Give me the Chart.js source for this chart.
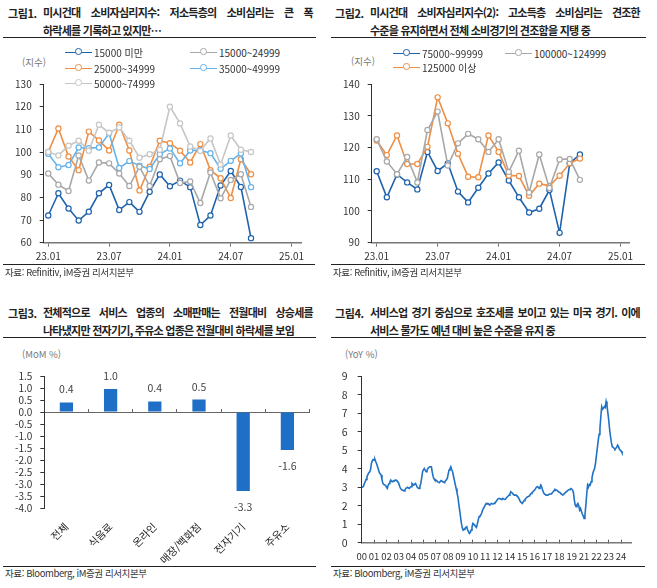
<!DOCTYPE html>
<html lang="ko">
<head>
<meta charset="utf-8">
<script src="https://cdn.jsdelivr.net/npm/chart.js@4"></script>
<style>
body{margin:0;background:#fff;width:657px;height:588px;position:relative;overflow:hidden;
  font-family:'Noto Sans CJK KR','Noto Sans',sans-serif;color:#222}
.num{position:absolute;font-size:11px;font-weight:700;line-height:18px;letter-spacing:-0.4px;white-space:nowrap}
.tt{position:absolute;width:270px;font-size:11px;font-weight:700;line-height:17.5px;letter-spacing:-0.75px;white-space:nowrap}
.tt .l1{display:flex;justify-content:space-between}
.rule{position:absolute;height:0;border-top:1px solid #222}
.src{position:absolute;font-size:9.5px;line-height:12px;color:#333;letter-spacing:-0.4px;white-space:nowrap}
.unit{position:absolute;font-size:9.5px;line-height:12px;color:#777;white-space:nowrap}
canvas{position:absolute}
.lg{position:absolute;font-size:10px;color:#333;display:flex;align-items:center;height:14px;white-space:nowrap}
.lg i{display:inline-block;width:27px;height:0;border-top:1.6px solid;position:relative;margin-right:2px}
.lg i b{position:absolute;left:10px;top:-4.4px;width:4.5px;height:4.5px;border:1.2px solid;border-radius:50%;background:#fff}
</style>
</head>
<body>

<div class="num" style="left:8px;top:4px">그림1.</div>
<div class="tt" style="left:43px;top:4px">
  <div class="l1"><span>미시건대</span><span>소비자심리지수:</span><span>저소득층의</span><span>소비심리는</span><span>큰</span><span>폭</span></div>
  <div>하락세를 기록하고 있지만…</div>
</div>
<div class="rule" style="left:3px;top:37px;width:313px"></div>

<div class="num" style="left:335px;top:4px">그림2.</div>
<div class="tt" style="left:370px;top:4px">
  <div class="l1"><span>미시건대</span><span>소비자심리지수(2):</span><span>고소득층</span><span>소비심리는</span><span>견조한</span></div>
  <div>수준을 유지하면서 전체 소비경기의 견조함을 지탱 중</div>
</div>
<div class="rule" style="left:331px;top:37px;width:315px"></div>

<div class="num" style="left:8px;top:304px">그림3.</div>
<div class="tt" style="left:43px;top:304px">
  <div class="l1"><span>전체적으로</span><span>서비스</span><span>업종의</span><span>소매판매는</span><span>전월대비</span><span>상승세를</span></div>
  <div>나타냈지만 전자기기, 주유소 업종은 전월대비 하락세를 보임</div>
</div>
<div class="rule" style="left:3px;top:337px;width:313px"></div>

<div class="num" style="left:335px;top:304px">그림4.</div>
<div class="tt" style="left:370px;top:304px">
  <div class="l1"><span>서비스업</span><span>경기</span><span>중심으로</span><span>호조세를</span><span>보이고</span><span>있는</span><span>미국</span><span>경기.</span><span>이에</span></div>
  <div>서비스 물가도 예년 대비 높은 수준을 유지 중</div>
</div>
<div class="rule" style="left:331px;top:337px;width:315px"></div>

<div class="unit" style="left:22px;top:56px">(지수)</div>
<div class="unit" style="left:351px;top:55px">(지수)</div>
<div class="unit" style="left:22px;top:348px">(MoM %)</div>
<div class="unit" style="left:345px;top:348px">(YoY %)</div>

<canvas id="c1" width="320" height="200" style="left:0;top:70px"></canvas>
<canvas id="c2" width="320" height="200" style="left:330px;top:70px"></canvas>
<canvas id="c3" width="325" height="225" style="left:0;top:340px"></canvas>
<canvas id="c4" width="320" height="225" style="left:330px;top:340px"></canvas>

<div id="legend1"></div>
<div id="legend2"></div>

<div class="rule" style="left:3px;top:264px;width:312px"></div>
<div class="rule" style="left:331px;top:264px;width:314px"></div>
<div class="rule" style="left:3px;top:566px;width:313px"></div>
<div class="rule" style="left:331px;top:566px;width:314px"></div>
<div class="src" style="left:5px;top:266px">자료: Refinitiv, iM증권 리서치본부</div>
<div class="src" style="left:333px;top:266px">자료: Refinitiv, iM증권 리서치본부</div>
<div class="src" style="left:5px;top:567px">자료: Bloomberg, iM증권 리서치본부</div>
<div class="src" style="left:333px;top:567px">자료: Bloomberg, iM증권 리서치본부</div>

<script>
// month axis for the two sentiment charts (data stops at 24.09)
const monthLabels = ['23.01','23.02','23.03','23.04','23.05','23.06','23.07','23.08','23.09','23.10','23.11','23.12',
  '24.01','24.02','24.03','24.04','24.05','24.06','24.07','24.08','24.09','24.10','24.11','24.12','25.01'];

// 그림1
const under15k   = [72,81.8,75.1,69.8,73.7,81.8,85.5,74.4,77.9,73.6,82.5,90.1,84.9,87.4,84.5,67.8,72,85.2,91.6,84.6,62];
const inc15to25  = [90.5,85.6,82.8,98.5,87.4,95.4,95,90.5,85,93.5,85,96.8,98.2,86.3,87,77.5,91,79.6,87.7,90.2,75.8];
const inc25to35  = [100,110.4,98,92,109,105.1,100.7,112,100.7,83,93.5,105,103.9,100.6,95.4,103.5,92,88.4,79.7,96.8,90.2];
const inc35to50  = [99.2,93.3,94.3,102,101.7,102,108.3,93,96,94,92.5,99,101.6,95,100.7,100.8,99.5,92.6,96.1,99.3,84.5];
const inc50to75  = [100,98.5,102.8,105,100.6,112,108.5,110.8,105,97.5,99,101,120,112.6,102.4,100.5,106,94.5,107.3,101,100];

// 그림2
const inc75to100  = [112.5,104.3,111.5,109,106.8,118.6,112.6,115,106.1,102.7,107.3,111.8,115.3,109.6,104.3,99.5,100.7,106.6,93.1,115,117.8];
const inc100to125 = [122.6,115.6,111.6,117,109,125.5,131.3,114.3,121.3,124.3,122.6,118.6,122.6,112.3,119,105.8,117.8,107.2,116.2,116.4,109.8];
const over125k    = [122.2,117.6,123.8,114.8,114.8,120.2,135.8,127.6,118,110.8,110.6,123.8,118.6,111.2,111,104.8,108.6,107.9,111.1,115,116.5];

// 그림3
const retailCats  = ['전체','식음료','온라인','매장/백화점','전자기기','주유소'];
const retailMoM   = [0.4,0.96,0.44,0.52,-3.28,-1.58];

// 그림4 : monthly, 2000.01 ~ 2024.09
const cpiTickLabels = ['00','01','02','03','04','05','07','08','09','10','11','12','14','15','16','17','18','19','21','22','23','24'];
const cpiServices = [
  2.97,3.0,3.05,3.2,3.3,3.42,3.56,3.68,3.78,3.82,3.95,4.28,
  4.42,4.5,4.46,4.5,4.37,4.25,4.1,3.95,3.78,3.72,3.65,3.4,
  3.2,3.15,3.12,3.11,3.0,2.93,3.1,3.2,3.3,3.38,3.3,3.29,
  3.35,3.33,3.38,3.38,3.33,3.29,3.2,3.05,2.93,2.88,2.84,2.82,
  2.8,2.85,2.93,2.96,2.99,2.95,2.93,3.0,3.02,3.2,3.15,3.11,
  3.16,3.2,3.1,2.99,2.95,2.93,3.05,3.2,3.5,3.83,3.95,4.01,
  3.9,3.83,3.9,4.01,4.05,4.1,4.1,4.1,3.8,3.56,3.45,3.38,
  3.38,3.35,3.29,3.27,3.24,3.3,3.35,3.32,3.29,3.26,3.24,3.35,
  3.4,3.47,3.7,3.92,4.0,4.1,3.95,3.83,3.6,3.38,3.15,2.93,
  2.7,2.48,2.1,1.76,1.4,1.04,0.8,0.68,0.72,0.77,0.82,0.86,
  0.7,0.6,0.5,0.55,0.68,0.85,1.04,1.0,0.95,0.88,0.83,1.0,
  1.22,1.4,1.45,1.49,1.6,1.76,1.85,1.94,2.03,2.12,2.1,2.12,
  2.08,2.03,2.08,2.12,2.09,2.09,2.12,2.16,2.2,2.27,2.33,2.39,
  2.39,2.37,2.34,2.36,2.39,2.36,2.34,2.36,2.42,2.48,2.52,2.57,
  2.65,2.75,2.7,2.66,2.6,2.57,2.57,2.57,2.52,2.48,2.4,2.3,
  2.2,2.16,2.12,2.2,2.27,2.33,2.39,2.44,2.48,2.5,2.52,2.6,
  2.66,2.7,2.75,2.8,2.84,2.92,2.99,3.02,3.0,2.93,3.0,3.11,
  3.0,2.84,2.72,2.63,2.6,2.57,2.57,2.57,2.6,2.63,2.63,2.63,
  2.7,2.75,2.82,2.88,2.86,2.84,2.8,2.75,2.72,2.7,2.63,2.6,
  2.57,2.62,2.66,2.72,2.75,2.8,2.84,2.86,2.88,2.93,2.9,2.84,
  2.7,2.3,2.03,1.95,2.05,2.12,2.0,1.76,1.85,1.7,1.55,1.45,
  1.31,1.5,2.0,2.6,3.11,3.0,3.15,3.11,3.3,3.5,3.75,3.9,
  4.01,4.3,4.7,5.1,5.5,5.85,6.17,6.8,7.34,7.2,7.25,7.35,
  7.3,7.62,7.4,7.0,6.6,6.1,5.72,5.4,5.18,5.15,5.1,5.05,
  5.1,5.15,5.27,5.2,5.05,5.0,4.95,4.85,4.82
];

const FONT = "'Noto Sans CJK KR','Noto Sans',sans-serif";
Chart.defaults.font.family = FONT;
Chart.defaults.color = '#333';

const DARK_BLUE = '#1f63ad', ORANGE = '#ef8f45', LIGHT_BLUE = '#66b2ea', GRAY = '#a8a8a8', LIGHT_GRAY = '#c6c6c6';

const series1 = [
  {label:'15000~24999', data:inc15to25, color:GRAY, lx:190, ly:52},
  {label:'50000~74999', data:inc50to75, color:LIGHT_GRAY, lx:65, ly:83},
  {label:'35000~49999', data:inc35to50, color:LIGHT_BLUE, lx:190, ly:68},
  {label:'25000~34999', data:inc25to35, color:ORANGE, lx:65, ly:68},
  {label:'15000 미만', data:under15k, color:DARK_BLUE, lx:65, ly:52}
];
const series2 = [
  {label:'100000~124999', data:inc100to125, color:GRAY, lx:505, ly:53},
  {label:'125000 이상', data:over125k, color:ORANGE, lx:393, ly:67},
  {label:'75000~99999', data:inc75to100, color:DARK_BLUE, lx:393, ly:53}
];

const toXY = arr => arr.map((v,i)=>({x:i, y:v}));

function drawLegend(boxId, series){
  const box = document.getElementById(boxId);
  series.forEach(s=>{
    const d = document.createElement('div');
    d.className = 'lg';
    d.style.left = s.lx + 'px';
    d.style.top = (s.ly - 7) + 'px';
    d.innerHTML = `<i style="border-color:${s.color}"><b style="border-color:${s.color}"></b></i>${s.label}`;
    box.appendChild(d);
  });
}

function sentimentChart(id, series, yMin, yMax, axisW, xMin, xMax){
  return new Chart(document.getElementById(id), {
    type:'line',
    data:{ datasets: series.map(s=>({
      label:s.label, data:toXY(s.data), borderColor:s.color, borderWidth:1.6,
      pointRadius:2.6, pointBorderWidth:1.2, pointBackgroundColor:'#fff', pointBorderColor:s.color, tension:0
    }))},
    options:{
      responsive:false, animation:false,
      layout:{ padding:{ top:6, right:320-axisW-258, left:0, bottom:0 } },
      plugins:{ legend:{display:false}, tooltip:{enabled:false} },
      scales:{
        x:{ type:'linear', min:xMin, max:xMax,
            afterBuildTicks: s=>{ s.ticks = [0,6,12,18,24].map(v=>({value:v})); },
            ticks:{ callback:v=>monthLabels[v], autoSkip:false, maxRotation:0, font:{size:10}, padding:4 },
            grid:{ drawOnChartArea:false, tickLength:4, color:'#777' },
            border:{ color:'#777', width:1.5 },
            afterFit: s=>{ s.height = 27.3; } },
        y:{ min:yMin, max:yMax,
            ticks:{ stepSize:10, autoSkip:false, font:{size:10}, padding:8 },
            grid:{ drawOnChartArea:false, tickLength:4, color:'#333' },
            border:{ color:'#333', width:1 },
            afterFit: s=>{ s.width = axisW; } }
      }
    }
  });
}

sentimentChart('c1', series1, 60, 130, 43.7, -0.45, 25);
sentimentChart('c2', series2, 90, 140, 41.7, -0.49, 24.9);
drawLegend('legend1', series1);
drawLegend('legend2', series2);

const barValueLabels = {
  id:'barValueLabels',
  afterDatasetsDraw(chart){
    const {ctx} = chart;
    const vals = chart.data.datasets[0].data;
    ctx.save();
    ctx.font = `10.5px ${FONT}`;
    ctx.fillStyle = '#444';
    ctx.textAlign = 'center';
    ctx.textBaseline = 'middle';
    chart.getDatasetMeta(0).data.forEach((bar,i)=>{
      const v = vals[i];
      ctx.fillText(v.toFixed(1), bar.x, v >= 0 ? bar.y - 13 : bar.y + 16);
    });
    ctx.restore();
  }
};

new Chart(document.getElementById('c3'), {
  type:'bar',
  data:{ labels:retailCats, datasets:[{ data:retailMoM, backgroundColor:'#1f6fc6', barPercentage:0.3, categoryPercentage:1 }]},
  options:{
    responsive:false, animation:false,
    layout:{ padding:{ top:36, right:15.5 } },
    plugins:{ legend:{display:false}, tooltip:{enabled:false} },
    scales:{
      x:{ ticks:{ minRotation:45, maxRotation:45, autoSkip:false, font:{size:10.5}, padding:4, color:'#222' },
          grid:{ display:false }, border:{ display:false },
          afterFit: s=>{ s.height = 56.7; } },
      x2:{ type:'category', labels:retailCats, position:{ y:0 }, offset:true,
           ticks:{ display:false },
           grid:{ offset:true, drawOnChartArea:false, tickLength:-4, color:'#666' },
           border:{ color:'#666', width:1 },
           afterFit: s=>{ s.height = 0; } },
      y:{ min:-4, max:1.5,
          ticks:{ stepSize:0.5, autoSkip:false, callback:v=>Number(v).toFixed(1), font:{size:10}, padding:8 },
          grid:{ drawOnChartArea:false, tickLength:4, color:'#333' },
          border:{ color:'#333', width:1 },
          afterFit: s=>{ s.width = 44.3; } }
    }
  },
  plugins:[barValueLabels]
});

new Chart(document.getElementById('c4'), {
  type:'line',
  data:{ datasets:[{ data:toXY(cpiServices), borderColor:'#1f72c4', borderWidth:1.6, pointRadius:0, tension:0 }]},
  options:{
    responsive:false, animation:false,
    layout:{ padding:{ top:36, right:18.3 } },
    plugins:{ legend:{display:false}, tooltip:{enabled:false} },
    scales:{
      x:{ type:'linear', min:0, max:306,
          afterBuildTicks: s=>{ s.ticks = cpiTickLabels.map((_,i)=>({value:i*14})); },
          ticks:{ callback:v=>cpiTickLabels[v/14], autoSkip:false, maxRotation:0, font:{size:9.5}, padding:11 },
          grid:{ drawOnChartArea:false, tickLength:-3, color:'#555' },
          border:{ color:'#777', width:1.5 },
          afterFit: s=>{ s.height = 22.3; } },
      y:{ min:0, max:9,
          ticks:{ stepSize:1, autoSkip:false, font:{size:10.5}, padding:10 },
          grid:{ drawOnChartArea:false, tickLength:4, color:'#333' },
          border:{ color:'#333', width:1 },
          afterFit: s=>{ s.width = 31.7; } }
    }
  }
});
</script>
</body>
</html>
